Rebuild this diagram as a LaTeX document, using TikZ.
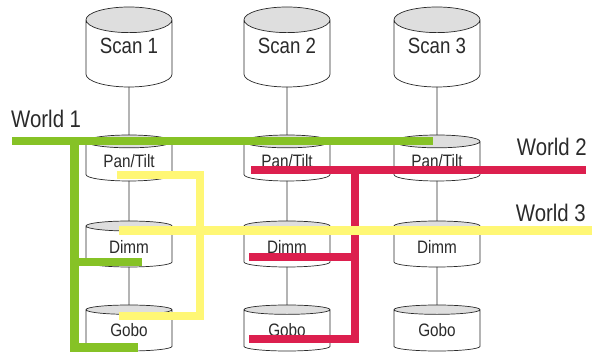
\documentclass[tikz,border=0pt]{standalone}
\usepackage{fontspec}
\setmainfont{Liberation Sans}[FakeStretch=0.85]
\usetikzlibrary{shapes.geometric}

\definecolor{inkgray}{HTML}{2A2A2A}
\definecolor{endgray}{HTML}{DEDEDE}
\definecolor{worldgreen}{HTML}{86C226}
\definecolor{worldred}{HTML}{DC1F4E}
\definecolor{worldyellow}{HTML}{FFF775}

\tikzset{
   drum/.style={cylinder, shape border rotate=90, draw=inkgray, line width=0.7pt,
      cylinder uses custom fill, cylinder end fill=endgray, cylinder body fill=white,
      minimum width=86pt, inner sep=0pt, outer sep=0pt, text=inkgray, anchor=shape center},
   scanbox/.style={drum, minimum height=80pt, aspect=0.44, text height=0pt, text depth=0pt,
      font=\fontsize{22}{24}\selectfont},
   unitbox/.style={drum, minimum height=46pt, aspect=0.25, font=\fontsize{18}{20}\selectfont},
   link/.style={draw=inkgray, line width=0.6pt},
   bus/.style={line width=8.5pt, line cap=butt, line join=miter},
   worldlabel/.style={font=\fontsize{24}{26}\selectfont, text=inkgray, inner sep=0pt}
}

\begin{document}
\begin{tikzpicture}[x=1pt, y=-1pt]
   \useasboundingbox (0,0) rectangle (592,352);

   % scanners
   \node[scanbox] (scan1) at (129,47) {Scan 1};
   \node[scanbox] (scan2) at (287,47) {Scan 2};
   \node[scanbox] (scan3) at (437,47) {Scan 3};

   % units
   \node[unitbox] (pan1) at (129,158) {Pan/Tilt};
   \node[unitbox] (pan2) at (287,158) {Pan/Tilt};
   \node[unitbox] (pan3) at (437,158) {Pan/Tilt};
   \node[unitbox] (dim1) at (129,244) {Dimm};
   \node[unitbox] (dim2) at (287,244) {Dimm};
   \node[unitbox] (dim3) at (437,244) {Dimm};
   \node[unitbox] (gobo1) at (129,328) {Gobo};
   \node[unitbox] (gobo2) at (287,328) {Gobo};
   \node[unitbox] (gobo3) at (437,328) {Gobo};

   \draw[link] (scan1.south) -- (pan1.north);
   \draw[link] (scan2.south) -- (pan2.north);
   \draw[link] (scan3.south) -- (pan3.north);
   \draw[link] (pan1.south) -- (dim1.north);
   \draw[link] (pan2.south) -- (dim2.north);
   \draw[link] (pan3.south) -- (dim3.north);
   \draw[link] (dim1.south) -- (gobo1.north);
   \draw[link] (dim2.south) -- (gobo2.north);
   \draw[link] (dim3.south) -- (gobo3.north);

   % worlds
   \draw[bus, worldgreen] (12,141) -- (433,141);
   \draw[bus, worldgreen] (74.5,141) -- (74.5,347.5) -- (138,347.5);
   \draw[bus, worldgreen] (74.5,262) -- (142,262);

   \draw[bus, worldred] (251,170) -- (586,170);
   \draw[bus, worldred] (355,170) -- (355,339) -- (249,339);
   \draw[bus, worldred] (249,257) -- (355,257);

   \draw[bus, worldyellow] (117,175) -- (200,175) -- (200,316) -- (119,316);
   \draw[bus, worldyellow] (119,230.5) -- (592,230.5);

   \node[worldlabel, anchor=west] (world1) at (11,119) {World 1};
   \node[worldlabel, anchor=east] (world2) at (587,147) {World 2};
   \node[worldlabel, anchor=east] (world3) at (586,213) {World 3};
\end{tikzpicture}
\end{document}
